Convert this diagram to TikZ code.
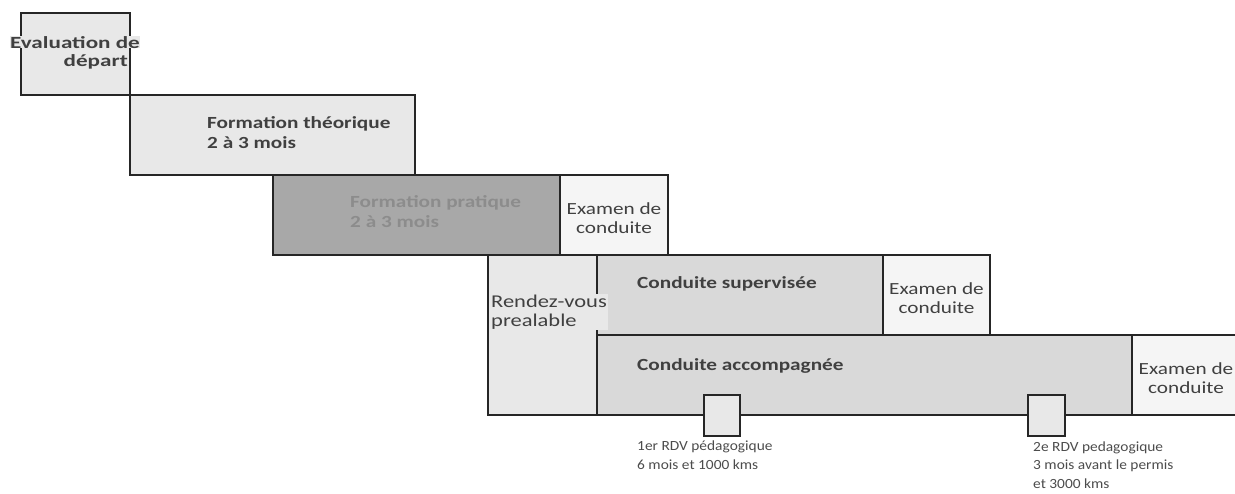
\documentclass[tikz,border=0pt]{standalone}
\usepackage{fontspec}
\setmainfont{Carlito}
\newfontfamily\widefont[FakeStretch=1.25]{Carlito}
\newfontfamily\evalfont[FakeStretch=1.36]{Carlito}
\newfontfamily\notefont[FakeStretch=1.1]{Carlito}
\definecolor{boxlight}{HTML}{E8E8E8}
\definecolor{boxdark}{HTML}{A8A8A8}
\definecolor{boxexam}{HTML}{F5F5F5}
\definecolor{boxdrive}{HTML}{D9D9D9}
\definecolor{txt}{HTML}{404040}
\tikzset{
  box/.style={draw=black!85, line width=1.5pt, inner sep=0pt},
  title/.style={font=\widefont\bfseries\fontsize{17}{19.5}\selectfont, text=txt, anchor=base west, inner sep=0pt, align=left},
  exam/.style={font=\widefont\fontsize{17}{18.5}\selectfont, text=txt, anchor=base, inner sep=0pt, align=center},
  note/.style={font=\notefont\fontsize{14}{18.5}\selectfont, text=black!70, anchor=base west, inner sep=0pt, align=left}
}
\begin{document}
\begin{tikzpicture}[x=1pt,y=-1pt]
    \useasboundingbox (0,0) rectangle (1235,493);
    \clip (0,0) rectangle (1235,493);
    % blocs
    \node[box, fill=boxlight, minimum width=109pt, minimum height=82pt] (Eval) at (75.5,54) {};
    \node[box, fill=boxlight, minimum width=285pt, minimum height=80pt] (Theo) at (272.5,135) {};
    \node[box, fill=boxdark, minimum width=287pt, minimum height=80pt] (Prat) at (416.5,215) {};
    \node[box, fill=boxexam, minimum width=108pt, minimum height=80pt] (Exam1) at (614,215) {};
    \node[box, fill=boxlight, minimum width=109pt, minimum height=160pt] (Rdv) at (542.5,335) {};
    \node[box, fill=boxdrive, minimum width=286pt, minimum height=80pt] (Sup) at (740,295) {};
    \node[box, fill=boxexam, minimum width=107pt, minimum height=80pt] (Exam2) at (936.5,295) {};
    \node[box, fill=boxdrive, minimum width=535pt, minimum height=80pt] (Acc) at (864.5,375) {};
    \node[box, fill=boxexam, minimum width=118pt, minimum height=80pt] (Exam3) at (1191,375) {};
    \node[box, fill=boxlight, minimum width=36pt, minimum height=41pt] (Pedag1) at (722,415.5) {};
    \node[box, fill=boxlight, minimum width=37pt, minimum height=41pt] (Pedag2) at (1046.5,415.5) {};
    % textes (base = derniere ligne)
    \node[title, font=\evalfont\bfseries\fontsize{17}{19}\selectfont, fill=boxlight, text depth=0pt] (EvalA) at (10,48) {Evaluation de};
    \node[title, font=\evalfont\bfseries\fontsize{17}{19}\selectfont, anchor=base east] (EvalB) at (128,66) {départ};
    \node[title] (TheoT) at (207,148) {Formation théorique\\2 à 3 mois};
    \node[title, text=black!45] (PratT) at (350,227) {Formation pratique\\2 à 3 mois};
    \node[exam] (Exam1T) at (614,233) {Examen de\\conduite};
    \node[exam, font=\widefont\fontsize{18}{19}\selectfont, anchor=base west, align=left, fill=boxlight, inner sep=1pt] (RdvT) at (490,326) {Rendez-vous\\prealable};
    \node[title] (SupT) at (637,288) {Conduite supervisée};
    \node[exam] (Exam2T) at (936.5,313) {Examen de\\conduite};
    \node[title] (AccT) at (637,370) {Conduite accompagnée};
    \node[exam] (Exam3T) at (1186,393) {Examen de\\conduite};
    \node[note] (Pedag1T) at (637,469) {1er RDV pédagogique\\6 mois et 1000 kms};
    \node[note] (Pedag2T) at (1033,488) {2e RDV pedagogique\\3 mois avant le permis\\et 3000 kms};
\end{tikzpicture}
\end{document}
